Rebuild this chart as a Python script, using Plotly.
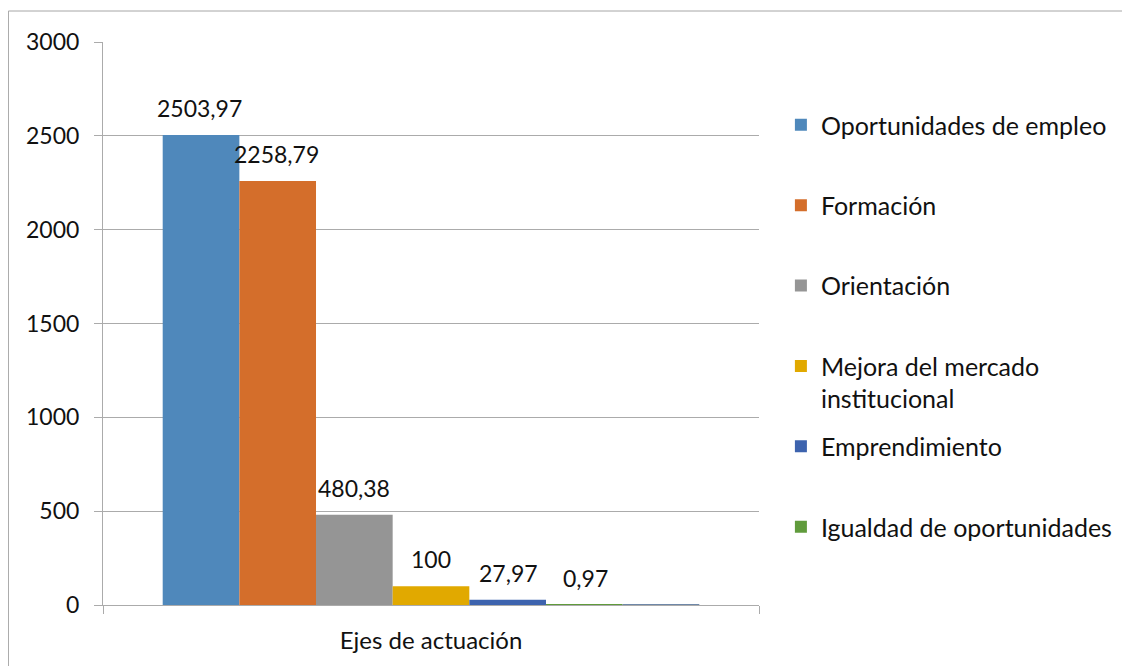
import plotly.graph_objects as go

# datos
categoria = ["Ejes de actuación"]
series = [
    "Oportunidades de empleo",
    "Formación",
    "Orientación",
    "Mejora del mercado<br>institucional",
    "Emprendimiento",
    "Igualdad de oportunidades",
    "",  # serie sin leyenda ni etiqueta (apenas visible sobre el eje)
]
valores = [2503.97, 2258.79, 480.38, 100, 27.97, 0.97, 0.5]
con_etiqueta = [True, True, True, True, True, True, False]
colores = ["#4F88BB", "#D46E2B", "#959595", "#E1A900", "#3D63AE", "#609B3C", "#6F88A8"]

# la página deja 8px de margen en el body: todo se desplaza
OFF = 8
W, H = 1130 - OFF, 666 - OFF
ML, MT = 103 - OFF, 42 - OFF
plot_w, plot_h = 659, 563
MR = W - ML - plot_w
MB = H - MT - plot_h
BARGAP = 0.182
FONT = "Lato, 'Noto Sans', sans-serif"
FS_NUM = 23
FS_TXT = 25
NEGRO = "#111111"
GRIS = "#ABABAB"


def px_y(py):
    # pixel vertical (referencia) -> coordenada paper
    return (H - MB - (py - OFF)) / plot_h


def px_x(px):
    return (px - OFF - ML) / plot_w


fig = go.Figure()

for i, (nombre, v, col) in enumerate(zip(series, valores, colores)):
    legend_id = "legend" if i == 0 else f"legend{i + 1}"
    fig.add_trace(go.Bar(
        x=categoria, y=[v],
        name=nombre,
        marker=dict(color=col, line=dict(width=0)),
        showlegend=bool(nombre),
        legend=legend_id if nombre else None,
        hoverinfo="skip",
    ))

# etiquetas de datos encima de cada barra
n = len(series)
bar_px = plot_w * (1 - BARGAP) / n
for i, (v, lab) in enumerate(zip(valores, con_etiqueta)):
    if not lab:
        continue
    fig.add_annotation(
        x=categoria[0], y=v, xref="x", yref="y",
        text=f"{v:g}".replace(".", ","),
        showarrow=False,
        xshift=(i - (n - 1) / 2) * bar_px,
        yanchor="middle", yshift=27,
        font=dict(family=FONT, size=FS_NUM, color=NEGRO),
    )

# leyendas independientes, una por serie
leyendas = {}
for i in range(6):
    key = "legend" if i == 0 else f"legend{i + 1}"
    yc = 125 + 80.4 * i
    leyendas[key] = dict(
        x=px_x(784), xanchor="left",
        y=px_y(yc - 23), yanchor="top",
        valign="top",
        font=dict(family=FONT, size=FS_TXT, color=NEGRO),
        bgcolor="rgba(0,0,0,0)",
    )

# marco exterior del gráfico
fig.add_shape(
    type="rect", xref="paper", yref="paper",
    x0=px_x(8), x1=px_x(1140), y0=px_y(680), y1=px_y(11),
    line=dict(color="#A6A6A6", width=1), fillcolor="rgba(0,0,0,0)",
)

fig.update_layout(
    width=W, height=H,
    margin=dict(l=ML, r=MR, t=MT, b=MB),
    paper_bgcolor="white", plot_bgcolor="white",
    barmode="group", bargap=BARGAP, bargroupgap=0,
    font=dict(family=FONT, size=FS_NUM, color=NEGRO),
    xaxis=dict(
        type="category", range=[-0.5, 0.5],
        showline=True, linecolor=GRIS, linewidth=1,
        ticks="outside", tickson="boundaries", ticklen=8, tickcolor=GRIS,
        showgrid=False, ticklabelstandoff=14,
        tickfont=dict(family=FONT, size=24, color=NEGRO),
    ),
    yaxis=dict(
        range=[0, 3000], dtick=500,
        showline=True, linecolor=GRIS, linewidth=1,
        ticks="outside", ticklen=8, tickcolor=GRIS,
        showgrid=True, gridcolor=GRIS, gridwidth=1,
        zeroline=False, ticklabelstandoff=10,
        tickfont=dict(family=FONT, size=FS_NUM, color=NEGRO),
    ),
    **leyendas,
)

fig.write_html("out.html")
